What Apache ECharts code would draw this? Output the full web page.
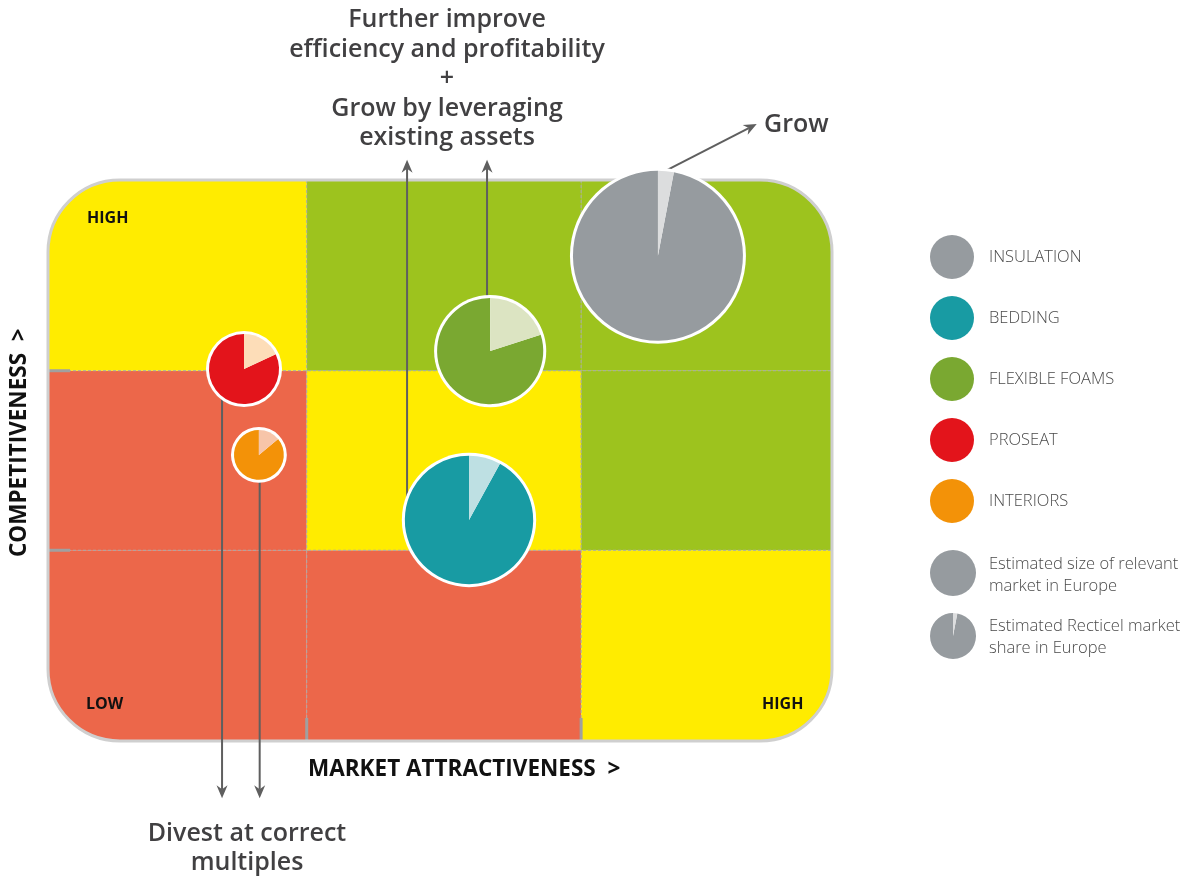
<!DOCTYPE html>
<html>
<head>
<meta charset="utf-8">
<script src="https://cdn.jsdelivr.net/npm/echarts@6/dist/echarts.min.js"></script>
<style>
  html, body { margin: 0; padding: 0; background: #fff; }
  #chart { width: 1194px; height: 877px; }
</style>
</head>
<body>
<div id="chart"></div>
<script>
// business segments (x = market attractiveness, y = competitiveness, 0-100)
const segments = ["INSULATION", "BEDDING", "FLEXIBLE FOAMS", "PROSEAT", "INTERIORS"];
const attractiveness = [77.8, 53.7, 56.4, 25.0, 26.9];
const competitiveness = [86.5, 39.4, 69.5, 66.3, 51.0];
const marketSize = [100, 57, 39, 17, 8.6];   // relative size of relevant market in Europe
const marketShare = [3, 8, 20, 18, 14];      // Recticel market share, %

// matrix zones
const xEdges = [0, 33, 68, 100];
const yEdges = [0, 34, 66, 100];
const zoneGrid = [            // rows from bottom (low) to top (high)
  ["red", "red", "yellow"],
  ["red", "yellow", "green"],
  ["yellow", "green", "green"],
];

// strategy arrows
const arrowSeg = [1, 2, 3, 4];
const arrowX = [45.8, 56.0, 22.2, 27.0];
const arrowEndY = [103.6, 103.6, -10.2, -10.2];
const growArrow = [79.0, 101.8, 90.4, 110.0];

const zoneColors = { red: "#EC674A", yellow: "#FFEC00", green: "#9DC31E" };
const mainColors = ["#969B9F", "#189BA3", "#7AA831", "#E3141B", "#F39208"];
const lightColors = ["#DCDDDE", "#BEE0E3", "#DCE4C2", "#FDDDB8", "#F7C5A9"];
const maxR = 85;

let chart = echarts.init(document.getElementById("chart"));

let cellData = [];
for (let r = 0; r < 3; r++) {
  for (let c = 0; c < 3; c++) {
    cellData.push([xEdges[c], yEdges[r], xEdges[c + 1], yEdges[r + 1], zoneGrid[r][c]]);
  }
}

function renderCell(params, api) {
  const x0 = api.value(0), y0 = api.value(1), x1 = api.value(2), y1 = api.value(3);
  const zone = cellData[params.dataIndex][4];
  const p0 = api.coord([x0, y1]);
  const p1 = api.coord([x1, y0]);
  const R = 72;
  const rr = [
    x0 === 0 && y1 === 100 ? R : 0,
    x1 === 100 && y1 === 100 ? R : 0,
    x1 === 100 && y0 === 0 ? R : 0,
    x0 === 0 && y0 === 0 ? R : 0,
  ];
  return {
    type: "rect",
    shape: { x: p0[0], y: p0[1], width: p1[0] - p0[0], height: p1[1] - p0[1], r: rr },
    style: { fill: zoneColors[zone] },
  };
}

function renderFrame(params, api) {
  const tl = api.coord([0, 100]);
  const br = api.coord([100, 0]);
  let children = [];
  // dashed zone borders
  for (let i = 1; i < xEdges.length - 1; i++) {
    const a = api.coord([xEdges[i], 100]), b = api.coord([xEdges[i], 0]);
    children.push({ type: "line", shape: { x1: a[0], y1: a[1], x2: b[0], y2: b[1] },
      style: { stroke: "#a9a9a9", lineWidth: 1, lineDash: [3, 2] } });
    children.push({ type: "line", shape: { x1: b[0], y1: b[1] - 23, x2: b[0], y2: b[1] },
      style: { stroke: "#a0a0a0", lineWidth: 3 } });
  }
  for (let i = 1; i < yEdges.length - 1; i++) {
    const a = api.coord([0, yEdges[i]]), b = api.coord([100, yEdges[i]]);
    children.push({ type: "line", shape: { x1: a[0], y1: a[1], x2: b[0], y2: b[1] },
      style: { stroke: "#a9a9a9", lineWidth: 1, lineDash: [3, 2] } });
    children.push({ type: "line", shape: { x1: a[0], y1: a[1], x2: a[0] + 22, y2: a[1] },
      style: { stroke: "#a0a0a0", lineWidth: 3 } });
  }
  children.push({
    type: "rect",
    shape: { x: tl[0], y: tl[1], width: br[0] - tl[0], height: br[1] - tl[1], r: 72 },
    style: { fill: "none", stroke: "#cfcfcf", lineWidth: 3 },
  });
  return { type: "group", children: children };
}

function renderArrow(params, api) {
  const p0 = api.coord([api.value(0), api.value(1)]);
  const p1 = api.coord([api.value(2), api.value(3)]);
  const dx = p1[0] - p0[0], dy = p1[1] - p0[1];
  const len = Math.sqrt(dx * dx + dy * dy);
  const ux = dx / len, uy = dy / len;
  const nx = -uy, ny = ux;
  const hl = 13, hw = 5.5, notch = 9;
  return {
    type: "group",
    children: [
      { type: "line",
        shape: { x1: p0[0], y1: p0[1], x2: p1[0] - ux * notch, y2: p1[1] - uy * notch },
        style: { stroke: "#5f5f5f", lineWidth: 2 } },
      { type: "polygon",
        shape: { points: [
          [p1[0], p1[1]],
          [p1[0] - ux * hl + nx * hw, p1[1] - uy * hl + ny * hw],
          [p1[0] - ux * notch, p1[1] - uy * notch],
          [p1[0] - ux * hl - nx * hw, p1[1] - uy * hl - ny * hw],
        ] },
        style: { fill: "#5f5f5f" } },
    ],
  };
}

function makePieRenderer(i) {
  return function (params, api) {
    const c = api.coord([api.value(0), api.value(1)]);
    const r = maxR * Math.sqrt(api.value(2) / 100);
    const a0 = -Math.PI / 2;
    const a1 = a0 + (api.value(3) / 100) * 2 * Math.PI;
    return {
      type: "group",
      children: [
        { type: "circle", shape: { cx: c[0], cy: c[1], r: r + 3 }, style: { fill: "#fff" } },
        { type: "sector",
          shape: { cx: c[0], cy: c[1], r0: 0, r: r, startAngle: a1, endAngle: a0 + 2 * Math.PI, clockwise: true },
          style: { fill: mainColors[i] } },
        { type: "sector",
          shape: { cx: c[0], cy: c[1], r0: 0, r: r, startAngle: a0, endAngle: a1, clockwise: true },
          style: { fill: lightColors[i] } },
      ],
    };
  };
}

let arrowData = arrowSeg.map((s, k) => [arrowX[k], competitiveness[s], arrowX[k], arrowEndY[k]]);
arrowData.push(growArrow);

let series = [
  { type: "custom", name: "zones", z: 1, silent: true, renderItem: renderCell, data: cellData.map(d => d.slice(0, 4)) },
  { type: "custom", name: "frame", z: 2, silent: true, renderItem: renderFrame, data: [[0, 0]] },
  { type: "custom", name: "arrows", z: 3, silent: true, renderItem: renderArrow, data: arrowData },
];
segments.forEach((name, i) => {
  series.push({
    type: "custom",
    name: name,
    z: 4,
    itemStyle: { color: mainColors[i] },
    renderItem: makePieRenderer(i),
    data: [[attractiveness[i], competitiveness[i], marketSize[i], marketShare[i]]],
  });
});

const annoFont = "'Open Sans', sans-serif";
const annoColor = "#414042";

let option = {
  animation: false,
  grid: { left: 48, top: 180, width: 784, height: 561 },
  xAxis: { type: "value", min: 0, max: 100, show: false },
  yAxis: { type: "value", min: 0, max: 100, show: false },
  legend: {
    data: segments,
    orient: "vertical",
    left: 930,
    top: 235,
    padding: 0,
    icon: "circle",
    itemWidth: 44,
    itemHeight: 44,
    itemGap: 17,
    selectedMode: false,
    textStyle: { fontFamily: annoFont, fontWeight: 300, fontSize: 16.5, color: "#4a4a4a", padding: [0, 0, 0, 10] },
  },
  graphic: [
    { type: "text", z: 10,
      style: { text: "Further improve\nefficiency and profitability\n+\nGrow by leveraging\nexisting assets",
        x: 447, y: 79, textAlign: "center", textVerticalAlign: "middle",
        font: "600 25px " + annoFont, lineHeight: 29.5, fill: annoColor } },
    { type: "text", z: 10,
      style: { text: "Grow", x: 764, y: 125, textAlign: "left", textVerticalAlign: "middle",
        font: "600 25px " + annoFont, fill: annoColor } },
    { type: "text", z: 10,
      style: { text: "Divest at correct\nmultiples", x: 247, y: 848, textAlign: "center", textVerticalAlign: "middle",
        font: "600 25px " + annoFont, lineHeight: 29, fill: annoColor } },
    { type: "text", z: 10,
      style: { text: "MARKET ATTRACTIVENESS  >", x: 308, y: 770, textAlign: "left", textVerticalAlign: "middle",
        font: "700 22.5px " + annoFont, fill: "#111" } },
    { type: "text", z: 10, x: 20, y: 557, rotation: Math.PI / 2,
      style: { text: "COMPETITIVENESS  >", x: 0, y: 0, textAlign: "left", textVerticalAlign: "middle",
        font: "700 22.5px " + annoFont, fill: "#111" } },
    { type: "text", z: 10,
      style: { text: "HIGH", x: 87, y: 218, textAlign: "left", textVerticalAlign: "middle",
        font: "700 16px " + annoFont, fill: "#111" } },
    { type: "text", z: 10,
      style: { text: "LOW", x: 86, y: 704, textAlign: "left", textVerticalAlign: "middle",
        font: "700 16px " + annoFont, fill: "#111" } },
    { type: "text", z: 10,
      style: { text: "HIGH", x: 762, y: 704, textAlign: "left", textVerticalAlign: "middle",
        font: "700 16px " + annoFont, fill: "#111" } },
    // size / share explanation
    { type: "circle", z: 10, shape: { cx: 953, cy: 573, r: 23 }, style: { fill: mainColors[0] } },
    { type: "text", z: 10,
      style: { text: "Estimated size of relevant\nmarket in Europe", x: 989, y: 575, textAlign: "left", textVerticalAlign: "middle",
        font: "300 16.5px " + annoFont, lineHeight: 22, fill: "#4a4a4a" } },
    { type: "sector", z: 10,
      shape: { cx: 953, cy: 636, r0: 0, r: 23, startAngle: -Math.PI / 2 + marketShare[0] / 100 * 2 * Math.PI, endAngle: 1.5 * Math.PI, clockwise: true },
      style: { fill: mainColors[0] } },
    { type: "sector", z: 10,
      shape: { cx: 953, cy: 636, r0: 0, r: 23, startAngle: -Math.PI / 2, endAngle: -Math.PI / 2 + marketShare[0] / 100 * 2 * Math.PI, clockwise: true },
      style: { fill: lightColors[0] } },
    { type: "text", z: 10,
      style: { text: "Estimated Recticel market\nshare in Europe", x: 989, y: 637, textAlign: "left", textVerticalAlign: "middle",
        font: "300 16.5px " + annoFont, lineHeight: 22, fill: "#4a4a4a" } },
  ],
  series: series,
};

chart.setOption(option);
</script>
</body>
</html>
